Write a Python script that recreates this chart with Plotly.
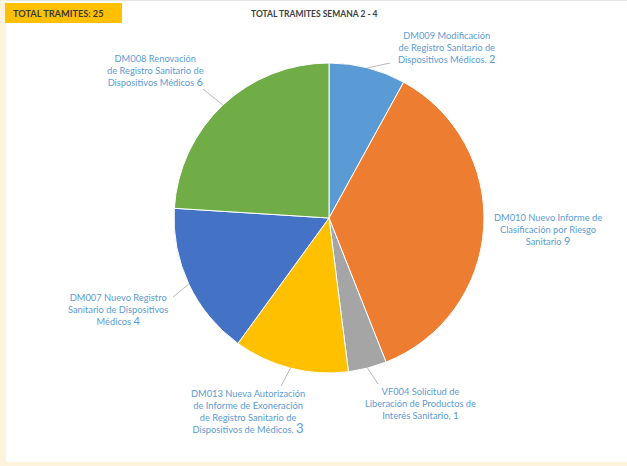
import math
import plotly.graph_objects as go

W, H = 627, 466

# Trámites por tipo (semanas 2 - 4)
codigos = ["DM009", "DM010", "VF004", "DM013", "DM007", "DM008"]
descripciones = [
    "Modificación<br>de Registro Sanitario de<br>Dispositivos Médicos.",
    "Nuevo Informe de<br>Clasificación por Riesgo<br>Sanitario",
    "Solicitud de<br>Liberación de Productos de<br>Interés Sanitario,",
    "Nueva Autorización<br>de Informe de Exoneración<br>de Registro Sanitario de<br>Dispositivos de Médicos.",
    "Nuevo Registro<br>Sanitario de Dispositivos<br>Médicos",
    "Renovación<br>de Registro Sanitario de<br>Dispositivos Médicos",
]
valores = [2, 9, 1, 3, 4, 6]
colores = ["#5B9BD5", "#ED7D31", "#A5A5A5", "#FFC000", "#4472C4", "#70AD47"]

# label block centres (px) and leader-line end points (px, None = no line)
label_pos = [(447, 47), (548, 229), (420, 403), (248, 412), (118, 309), (155, 71)]
leader_end = [(390, 63), None, (378, 384), (281, 386), (173, 297), (203, 89)]
value_size = [11, 11, 10, 13, 11, 11]

CX, CY, R = 329, 218, 155
total = sum(valores)


def px(x):
    return x / W


def py(y):
    return 1 - y / H


fig = go.Figure(
    go.Pie(
        labels=codigos,
        values=valores,
        marker=dict(colors=colores, line=dict(color="white", width=1)),
        sort=False,
        direction="clockwise",
        rotation=0,
        textinfo="none",
        hoverinfo="label+value",
        showlegend=False,
        domain=dict(x=[px(CX - R), px(CX + R)], y=[py(CY + R), py(CY - R)]),
    )
)

shapes = [
    # white chart area over the cream frame
    dict(type="rect", xref="paper", yref="paper", x0=px(6), x1=1, y0=py(462), y1=1,
         fillcolor="white", line=dict(width=0), layer="below"),
    dict(type="line", xref="paper", yref="paper", x0=px(6), x1=1, y0=py(0.5), y1=py(0.5),
         line=dict(color="#E4E4E4", width=1)),
    # total box
    dict(type="rect", xref="paper", yref="paper", x0=px(5), x1=px(122), y0=py(23), y1=py(3),
         fillcolor="#FFC000", line=dict(width=0)),
]

annotations = [
    dict(text="TOTAL TRAMITES: 25", x=px(11), y=py(13), xref="paper", yref="paper",
         xanchor="left", yanchor="middle", showarrow=False,
         font=dict(family="Lato", size=9.2, color="#3A3A3A", weight="bold")),
    dict(text="TOTAL TRAMITES SEMANA 2 - 4", x=px(314), y=py(14), xref="paper", yref="paper",
         xanchor="center", yanchor="middle", showarrow=False,
         font=dict(family="Lato", size=8.5, color="#404040", weight="bold")),
]

acum = 0
for cod, desc, val, (lx, ly), end, vs in zip(codigos, descripciones, valores,
                                             label_pos, leader_end, value_size):
    mid = (acum + val / 2) / total * 2 * math.pi
    acum += val
    ex = CX + R * math.sin(mid)
    ey = CY - R * math.cos(mid)
    if end is not None:
        shapes.append(dict(type="line", xref="paper", yref="paper",
                           x0=px(ex), y0=py(ey), x1=px(end[0]), y1=py(end[1]),
                           line=dict(color="#A6A6A6", width=0.8)))
    txt = f"{cod} {desc} <span style='font-size:{vs}px'>{val}</span>"
    annotations.append(dict(text=txt, x=px(lx), y=py(ly), xref="paper", yref="paper",
                            xanchor="center", yanchor="middle", showarrow=False,
                            align="center",
                            font=dict(family="Lato", size=9.3, color="#5B9BD5")))

fig.update_layout(
    width=W, height=H, autosize=False,
    margin=dict(l=0, r=0, t=0, b=0),
    paper_bgcolor="#FEF3DB",
    plot_bgcolor="white",
    shapes=shapes,
    annotations=annotations,
)

fig.write_html("out.html")
